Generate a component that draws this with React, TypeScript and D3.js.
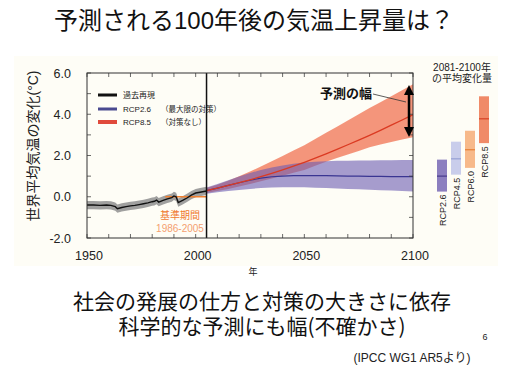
import * as d3 from "d3";

// historical reconstruction (year, anomaly °C)
const histYears = [1950, 1953, 1956, 1959, 1961, 1963, 1964, 1966, 1968, 1970, 1972, 1974, 1976, 1978, 1980, 1981, 1982, 1983, 1985, 1987, 1989, 1990, 1991, 1992, 1994, 1996, 1998, 2000, 2002, 2005];
const histMean = [-0.40, -0.40, -0.42, -0.40, -0.42, -0.48, -0.58, -0.52, -0.48, -0.44, -0.42, -0.38, -0.34, -0.30, -0.24, -0.22, -0.16, -0.26, -0.18, -0.10, -0.04, 0.04, 0.0, -0.28, -0.18, -0.06, 0.08, 0.18, 0.22, 0.28];

// projections, 5-year steps
const projYears = [2005, 2010, 2015, 2020, 2025, 2030, 2035, 2040, 2045, 2050, 2055, 2060, 2065, 2070, 2075, 2080, 2085, 2090, 2095, 2100];
const rcp26Mean = [0.30, 0.42, 0.55, 0.68, 0.80, 0.90, 0.97, 1.00, 1.02, 1.03, 1.02, 1.02, 1.01, 1.00, 1.00, 0.99, 0.99, 0.98, 0.98, 0.98];
const rcp26Low = [0.15, 0.22, 0.28, 0.33, 0.38, 0.42, 0.45, 0.46, 0.46, 0.46, 0.44, 0.42, 0.40, 0.38, 0.36, 0.34, 0.32, 0.30, 0.28, 0.26];
const rcp26High = [0.45, 0.62, 0.80, 0.98, 1.15, 1.30, 1.42, 1.52, 1.60, 1.66, 1.70, 1.72, 1.74, 1.75, 1.76, 1.76, 1.77, 1.77, 1.78, 1.78];
const rcp85Mean = [0.30, 0.42, 0.55, 0.68, 0.82, 0.97, 1.13, 1.30, 1.48, 1.67, 1.87, 2.08, 2.30, 2.52, 2.75, 2.98, 3.22, 3.47, 3.72, 3.98];
const rcp85Low = [0.18, 0.28, 0.38, 0.50, 0.62, 0.75, 0.88, 1.02, 1.16, 1.30, 1.50, 1.70, 1.88, 2.05, 2.22, 2.40, 2.53, 2.65, 2.77, 2.88];
const rcp85High = [0.42, 0.58, 0.78, 1.00, 1.22, 1.47, 1.72, 1.98, 2.24, 2.50, 2.80, 3.10, 3.40, 3.70, 4.00, 4.30, 4.58, 4.87, 5.16, 5.45];

// 2081-2100 mean change per scenario
const scenarios = ["RCP2.6", "RCP4.5", "RCP6.0", "RCP8.5"];
const scenLow = [0.25, 1.07, 1.40, 2.60];
const scenMean = [1.00, 1.84, 2.28, 3.78];
const scenHigh = [1.80, 2.67, 3.20, 4.87];
const scenFill = ["#8c7fbf", "#c9cdeb", "#f7b98a", "#f08a68"];
const scenLine = ["#4c3f8f", "#9aa3d6", "#e8843c", "#d9482a"];

const xTicks = [1950, 2000, 2050, 2100];
const yTicks = [-2, 0, 2, 4, 6];

const jp = "'Liberation Sans', 'Noto Sans CJK JP', sans-serif";

export default function App() {
  const x = d3.scaleLinear().domain([1950, 2100]).range([87, 413]);
  const y = d3.scaleLinear().domain([-2, 6]).range([238, 73]);
  const sx = d3.scalePoint().domain(scenarios).range([442, 484]);

  const band = (lo: number[], hi: number[], yrs: number[]) =>
    d3.area<number>().x((_, i) => x(yrs[i])).y0((_, i) => y(lo[i])).y1((_, i) => y(hi[i]))(yrs) || "";
  const line = (v: number[], yrs: number[]) =>
    d3.line<number>().x((_, i) => x(yrs[i])).y((d) => y(d))(v) || "";

  const histLow = histMean.map((d) => d - 0.2);
  const histHigh = histMean.map((d) => d + 0.2);

  const minorX = d3.range(1950, 2101, 10);
  const minorY = d3.range(-2, 6.01, 1);

  return (
    <svg width={520} height={367} style={{ position: "absolute", left: 0, top: 0 }} fontFamily={jp}>
      <defs>
        <marker id="ah" viewBox="0 0 10 10" refX="5" refY="5" markerWidth="4" markerHeight="4" orient="auto-start-reverse">
          <path d="M0,0 L10,5 L0,10 z" fill="#000" />
        </marker>
        <clipPath id="plot">
          <rect x={87} y={73} width={326} height={165} />
        </clipPath>
      </defs>
      <rect width={520} height={367} fill="#fff" />
      <rect x={14} y={56} width={484} height={210} fill="#fefdf6" />

      <text x={254} y={29} textAnchor="middle" fontSize={24} fill="#111">予測される100年後の気温上昇量は？</text>

      <g clipPath="url(#plot)">
        <path d={band(rcp85Low, rcp85High, projYears)} fill="#f3866a" opacity={0.88} />
        <path d={band(rcp26Low, rcp26High, projYears)} fill="#6a5cb3" opacity={0.6} />
        <path d={line(rcp26Mean, projYears)} fill="none" stroke="#3a3592" strokeWidth={1.2} />
        <path d={line(rcp85Mean, projYears)} fill="none" stroke="#db3a22" strokeWidth={1.3} />
        <path d={band(histLow, histHigh, histYears)} fill="#8f8f8f" opacity={0.85} />
        <line x1={x(1986)} x2={x(2005)} y1={y(0)} y2={y(0)} stroke="#f08030" strokeWidth={1.5} />
        <path d={line(histMean, histYears)} fill="none" stroke="#111" strokeWidth={1.4} />
      </g>

      <line x1={x(2005)} x2={x(2005)} y1={y(6)} y2={y(-2)} stroke="#111" strokeWidth={1.5} />

      {/* ticks */}
      {minorX.map((t) => (
        <g key={"x" + t} stroke="#444" strokeWidth={0.8}>
          <line x1={x(t)} x2={x(t)} y1={y(-2)} y2={y(-2) - 4} />
          <line x1={x(t)} x2={x(t)} y1={y(6)} y2={y(6) + 4} />
        </g>
      ))}
      {minorY.map((t) => (
        <g key={"y" + t} stroke="#444" strokeWidth={0.8}>
          <line x1={x(1950)} x2={x(1950) + 4} y1={y(t)} y2={y(t)} />
          <line x1={x(2100)} x2={x(2100) - 4} y1={y(t)} y2={y(t)} />
        </g>
      ))}
      <rect x={x(1950)} y={y(6)} width={x(2100) - x(1950)} height={y(-2) - y(6)} fill="none" stroke="#333" strokeWidth={1} />

      {yTicks.map((t) => (
        <text key={t} x={71} y={y(t) + 4.5} textAnchor="end" fontSize={12.5} fill="#222">{t.toFixed(1)}</text>
      ))}
      {xTicks.map((t) => (
        <text key={t} x={x(t) + 2} y={260} textAnchor="middle" fontSize={12.5} fill="#222">{t}</text>
      ))}
      <text x={253} y={275} textAnchor="middle" fontSize={9} fill="#222">年</text>
      <text transform="translate(38,146) rotate(-90)" textAnchor="middle" fontSize={14} fill="#222">世界平均気温の変化(°C)</text>

      {/* legend */}
      <line x1={98} x2={117} y1={95} y2={95} stroke="#111" strokeWidth={3} />
      <line x1={98} x2={117} y1={109} y2={109} stroke="#4a4a90" strokeWidth={3} />
      <line x1={98} x2={117} y1={122} y2={122} stroke="#e04a3c" strokeWidth={4} />
      <text x={123} y={98} fontSize={8} fill="#222">過去再現</text>
      <text x={123} y={112} fontSize={8} fill="#222">RCP2.6</text>
      <text x={161} y={112} fontSize={7.5} fill="#222">（最大限の対策）</text>
      <text x={123} y={125} fontSize={8} fill="#222">RCP8.5</text>
      <text x={161} y={125} fontSize={7.5} fill="#222">（対策なし）</text>

      <text x={180} y={219} textAnchor="middle" fontSize={10} fill="#f07a30">基準期間</text>
      <text x={180} y={232} textAnchor="middle" fontSize={10} fill="#f4a070">1986-2005</text>

      {/* annotation */}
      <text x={320} y={98} fontSize={13} fontWeight={600} fill="#111">予測の幅</text>
      <line x1={373} y1={94} x2={406} y2={102} stroke="#333" strokeWidth={0.8} />
      <line x1={409} x2={409} y1={90} y2={132} stroke="#000" strokeWidth={2.5} markerStart="url(#ah)" markerEnd="url(#ah)" />

      {/* 2081-2100 bars */}
      <text x={462} y={71} textAnchor="middle" fontSize={10} fill="#222">2081-2100年</text>
      <text x={462} y={82} textAnchor="middle" fontSize={10} fill="#222">の平均変化量</text>
      {scenarios.map((s, i) => {
        const cx = sx(s) ?? 0;
        return (
          <g key={s}>
            <rect x={cx - 5} y={y(scenHigh[i])} width={10} height={y(scenLow[i]) - y(scenHigh[i])} fill={scenFill[i]} />
            <line x1={cx - 5} x2={cx + 5} y1={y(scenMean[i])} y2={y(scenMean[i])} stroke={scenLine[i]} strokeWidth={1.3} />
            <text transform={`translate(${cx + 3.5},${y(scenLow[i]) + 3}) rotate(-90)`} textAnchor="end" fontSize={9} fill="#222">{s}</text>
          </g>
        );
      })}

      <text x={262} y={309} textAnchor="middle" fontSize={21} fill="#111">社会の発展の仕方と対策の大きさに依存</text>
      <text x={262} y={334} textAnchor="middle" fontSize={21} fill="#111" fontFamily="'Noto Sans CJK JP', sans-serif">科学的な予測にも幅(不確かさ)</text>
      <text x={412} y={362} textAnchor="middle" fontSize={12} fill="#222">(IPCC WG1 AR5より)</text>
      <text x={485} y={340} textAnchor="middle" fontSize={9} fill="#222">6</text>
    </svg>
  );
}
